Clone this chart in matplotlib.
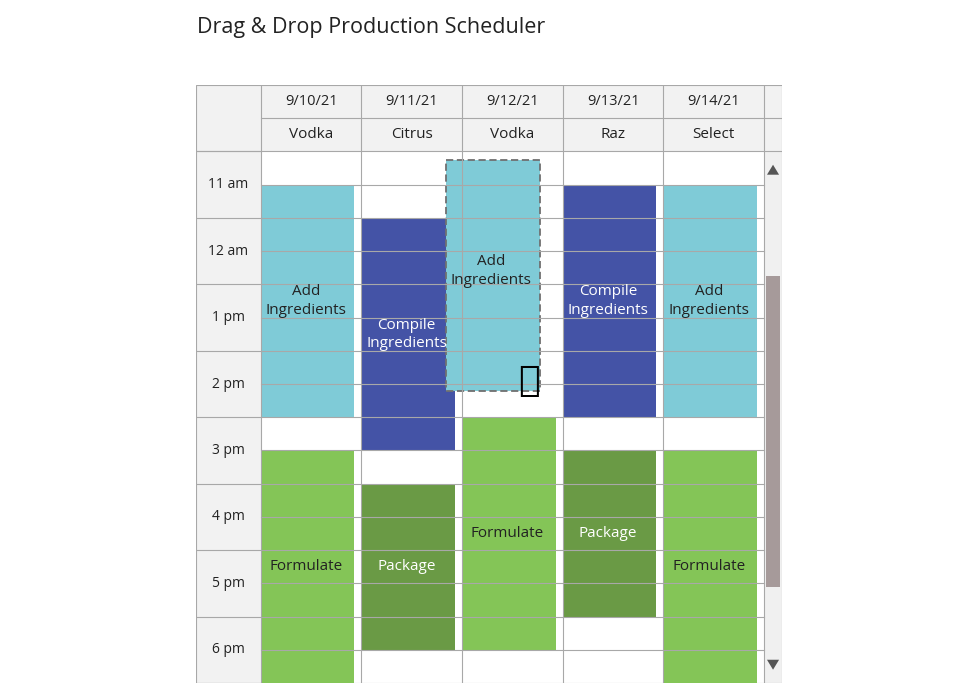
import matplotlib
matplotlib.use("Agg")
import matplotlib.pyplot as plt
from matplotlib.patches import Rectangle, Polygon

plt.rcParams['font.family'] = 'Open Sans'

dates = ['9/10/21', '9/11/21', '9/12/21', '9/13/21', '9/14/21']
products = ['Vodka', 'Citrus', 'Vodka', 'Raz', 'Select']
hours = ['11 am', '12 am', '1 pm', '2 pm', '3 pm', '4 pm', '5 pm', '6 pm']
# tasks: (column, start slot, end slot, name) ; slot = half hour from 10:30
task_col = [0, 0, 1, 1, 2, 3, 3, 4, 4]
task_start = [1, 9, 2, 10, 8, 1, 9, 1, 9]
task_end = [8, 16, 9, 15, 15, 8, 14, 8, 16]
task_name = ['Add\nIngredients', 'Formulate', 'Compile\nIngredients', 'Package', 'Formulate',
             'Compile\nIngredients', 'Package', 'Add\nIngredients', 'Formulate']
drag_col, drag_start, drag_end = 1.84, 0.25, 7.2

colors = {'Add\nIngredients': '#7fcbd7', 'Compile\nIngredients': '#4453a6',
          'Formulate': '#84c557', 'Package': '#6a9a45'}
txtcol = {'Add\nIngredients': '#222222', 'Compile\nIngredients': 'white',
          'Formulate': '#222222', 'Package': 'white'}

fig = plt.figure(figsize=(9.58, 6.92), dpi=100)
fig.text(197/958, 1 - 28/692, 'Drag & Drop Production Scheduler', fontsize=15.5,
         va='center', ha='left', color='#222222')
ax = fig.add_axes([196/958, 9/692, 586/958, 598/692])
tw = 65/101
sw = 18/101
ax.set_xlim(-tw, 5 + sw)
ax.set_ylim(16, -2)
ax.axis('off')
lc = '#a8a8a8'

# header + time column backgrounds
ax.add_patch(Rectangle((-tw, -2), 5 + tw + sw, 2, fc='#f2f2f2', ec='none'))
ax.add_patch(Rectangle((-tw, 0), tw, 16, fc='#f2f2f2', ec='none'))
ax.add_patch(Rectangle((5, 0), sw, 16, fc='#f0f0f0', ec='none'))

# grid lines
for s in range(1, 16):
    ax.plot([0, 5], [s, s], color=lc, lw=0.8)
for s in range(0, 17, 2):
    ax.plot([-tw, 0], [s, s], color=lc, lw=0.8)
ax.plot([0, 5 + sw], [-1, -1], color=lc, lw=0.8)
ax.plot([-tw, 5 + sw], [0, 0], color=lc, lw=0.8)
for c in range(0, 6):
    ax.plot([c, c], [-2, 16], color=lc, lw=0.8)
ax.add_patch(Rectangle((-tw, -2), 5 + tw + sw, 18, fc='none', ec=lc, lw=0.8))

for i, (d, p) in enumerate(zip(dates, products)):
    ax.text(i + 0.5, -1.5, d, ha='center', va='center', fontsize=10.5, color='#222222')
    ax.text(i + 0.5, -0.5, p, ha='center', va='center', fontsize=11, color='#222222')
for i, h in enumerate(hours):
    ax.text(-tw / 2, 2 * i + 1, h, ha='center', va='center', fontsize=10, color='#222222')

for c, s, e, n in zip(task_col, task_start, task_end, task_name):
    ax.add_patch(Rectangle((c + 0.01, s), 0.92, e - s, fc=colors[n], ec='none'))
    ax.text(c + 0.45, (s + e) / 2, n, ha='center', va='center', fontsize=11,
            color=txtcol[n], linespacing=1.3)

# dragged block
ax.add_patch(Rectangle((drag_col, drag_start), 0.93, drag_end - drag_start,
                       fc='#7fcbd7', ec='#707070', lw=1.3, ls=(0, (4, 2))))
ax.text(drag_col + 0.45, 3.6, 'Add\nIngredients', ha='center', va='center',
        fontsize=11, color='#222222', linespacing=1.3)
ax.text(2.66, 6.9, '\u270b', ha='center', va='center', fontsize=26,
        family='DejaVu Sans', color='black')

# scrollbar
ax.add_patch(Rectangle((5.02, 3.75), sw - 0.04, 9.35, fc='#a69a9a', ec='none'))
ax.add_patch(Polygon([[5 + sw / 2, 0.4], [5 + sw / 2 - 0.06, 0.7], [5 + sw / 2 + 0.06, 0.7]],
                     fc='#555555', ec='none'))
ax.add_patch(Polygon([[5 + sw / 2, 15.6], [5 + sw / 2 - 0.06, 15.3], [5 + sw / 2 + 0.06, 15.3]],
                     fc='#555555', ec='none'))

fig.savefig('out.png', dpi=100)
